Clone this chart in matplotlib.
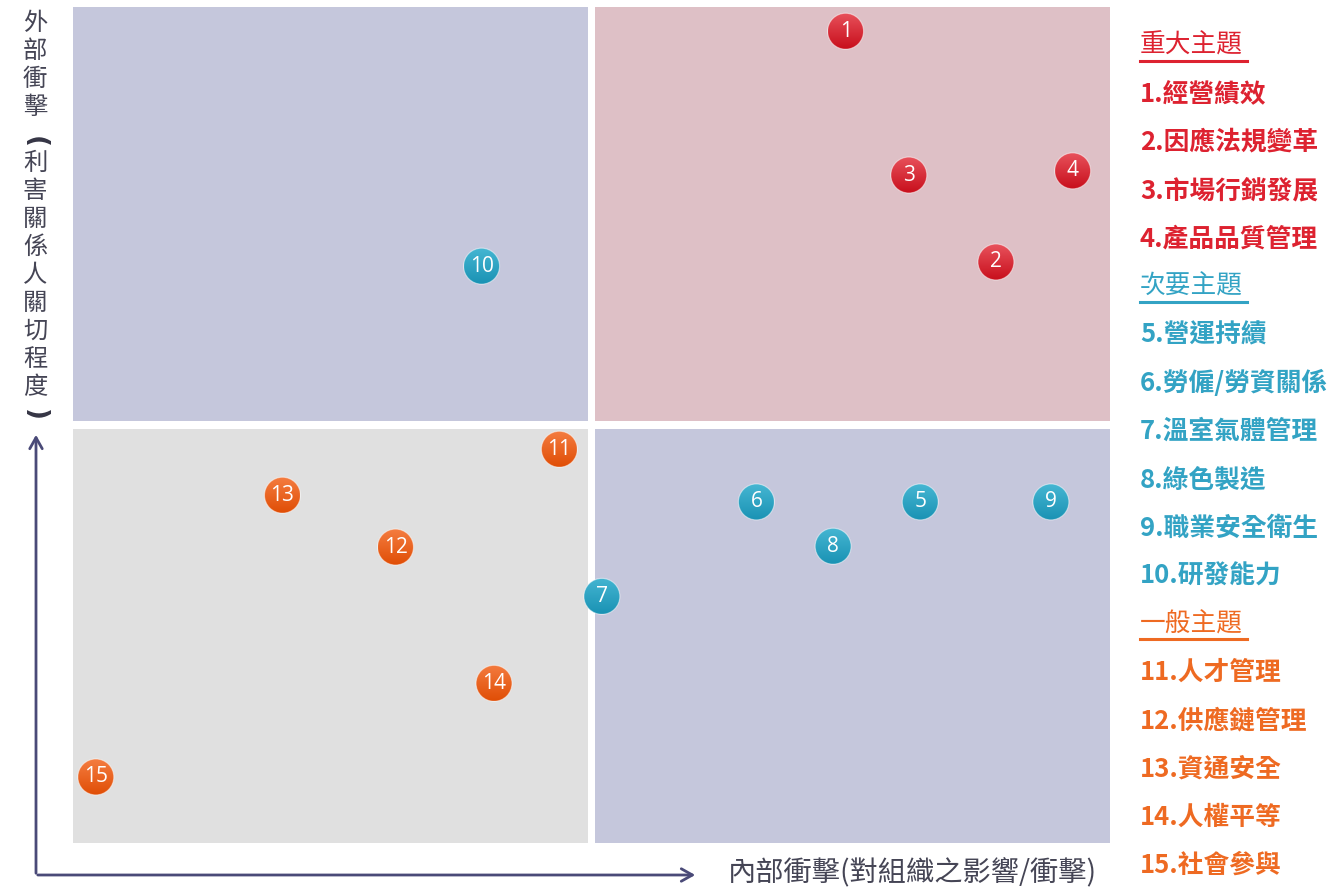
"""Materiality matrix: internal vs external impact."""

import numpy as np
import matplotlib.pyplot as plt
from matplotlib.patches import Rectangle, Ellipse
from matplotlib.lines import Line2D
from matplotlib.colors import LinearSegmentedColormap

plt.rcParams['font.family'] = ['Noto Sans CJK TC', 'DejaVu Sans']

W, H = 1340, 889

# topic data (x: internal impact, y: external impact, scale 0-10)
topic_ids = [1, 2, 3, 4, 5, 6, 7, 8, 9, 10, 11, 12, 13, 14, 15]
topic_x = [7.45, 8.90, 8.06, 9.64, 8.17, 6.59, 5.10, 7.33, 9.43, 3.94, 4.69, 3.11, 2.02, 4.06, 0.22]
topic_y = [9.71, 6.95, 7.99, 8.04, 4.08, 4.08, 2.95, 3.55, 4.08, 6.90, 4.71, 3.54, 4.16, 1.91, 0.79]
topic_group = ['major'] * 4 + ['minor'] * 6 + ['general'] * 5
topic_names = ['經營績效', '因應法規變革', '市場行銷發展', '產品品質管理',
               '營運持續', '勞僱/勞資關係', '溫室氣體管理', '綠色製造', '職業安全衛生', '研發能力',
               '人才管理', '供應鏈管理', '資通安全', '人權平等', '社會參與']
group_titles = {'major': '重大主題', 'minor': '次要主題', 'general': '一般主題'}
# (top, bottom) gradient colours of the markers
group_grad = {'major': ('#e8525c', '#c80f1c'),
              'minor': ('#45b6d2', '#1a92b4'),
              'general': ('#f47c40', '#e04e06')}
text_colors = {'major': '#dd2230', 'minor': '#33a3c4', 'general': '#ee6a22'}

fig = plt.figure(figsize=(W / 100, H / 100), dpi=100)
ax = fig.add_axes([73 / W, (H - 843) / H, 1037 / W, 836 / H])
ax.axis('off')

# quadrant backgrounds
quads = [
    (0, 5.048, 4.966, 4.952, '#c5c7dc'),
    (5.034, 5.048, 4.966, 4.952, '#dec0c6'),
    (0, 0, 4.966, 4.952, '#e0e0e0'),
    (5.034, 0, 4.966, 4.952, '#c5c7dc'),
]
for x0, y0, w, h, c in quads:
    ax.add_patch(Rectangle((x0, y0), w, h, facecolor=c, edgecolor='none', zorder=0))

# points: gradient filled circles
px_x = 1037 / 10
px_y = 836 / 10
dw, dh = 36 / px_x, 36 / px_y
grad = np.linspace(1, 0, 64).reshape(-1, 1)
for i, x, y, g in zip(topic_ids, topic_x, topic_y, topic_group):
    cmap = LinearSegmentedColormap.from_list(g, [group_grad[g][1], group_grad[g][0]])
    circ = Ellipse((x, y), dw, dh, facecolor='none', edgecolor='#ffffff80', lw=0.8,
                   zorder=4, clip_on=False)
    ax.add_patch(circ)
    im = ax.imshow(grad, cmap=cmap, extent=[x - dw / 2, x + dw / 2, y - dh / 2, y + dh / 2],
                   aspect='auto', zorder=3, origin='upper', vmin=0, vmax=1)
    im.set_clip_path(circ)
    ax.text(x, y, str(i), color='white', fontsize=15, ha='center', va='center',
            family=['Open Sans', 'DejaVu Sans'], zorder=5)

ax.set_xlim(0, 10)
ax.set_ylim(0, 10)

# axis arrows
arrow_kw = dict(arrowstyle='->,head_length=0.8,head_width=0.45', color='#4a4a78', lw=2)
fig.add_artist(plt.Annotation('', xy=(36, H - 432), xytext=(36, H - 876),
                              xycoords='figure pixels', textcoords='figure pixels',
                              arrowprops=arrow_kw))
fig.add_artist(plt.Annotation('', xy=(698, H - 875), xytext=(35, H - 875),
                              xycoords='figure pixels', textcoords='figure pixels',
                              arrowprops=arrow_kw))

fig.text(912 / W, 1 - 873 / H, '內部衝擊(對組織之影響/衝擊)', fontsize=20.3, color='#454555',
         ha='center', va='center')

# vertical y label, one character per line, brackets turned sideways
ylabel = '外部衝擊(利害關係人關切程度)'
cy = 23
for k, ch in enumerate(ylabel):
    if ch in '()':
        if ch == '(':
            cy += 7
        fig.text(35 / W, 1 - cy / H, ch, fontsize=19, color='#353545', ha='center',
                 va='center', rotation=-90, rotation_mode='anchor', fontweight='bold',
                 family='DejaVu Sans')
        cy += 21 if ch == '(' else 0
    else:
        fig.text(35 / W, 1 - cy / H, ch, fontsize=17.5, color='#454555',
                 ha='center', va='center')
        cy += 28

# legend
row_y = 46
step = 48.2
for g in ['major', 'minor', 'general']:
    fig.text(1140 / W, 1 - row_y / H, group_titles[g], fontsize=18.5,
             color=text_colors[g], ha='left', va='center')
    fig.add_artist(Line2D([1140 / W, 1247 / W], [1 - (row_y + 15) / H] * 2,
                          color=text_colors[g], lw=2.2))
    row_y += step
    for i, name, tg in zip(topic_ids, topic_names, topic_group):
        if tg != g:
            continue
        fig.text(1140 / W, 1 - row_y / H, f'{i}.{name}', fontsize=18.5, fontweight='bold',
                 color=text_colors[g], ha='left', va='center')
        row_y += step

fig.savefig('out.png', dpi=100)
